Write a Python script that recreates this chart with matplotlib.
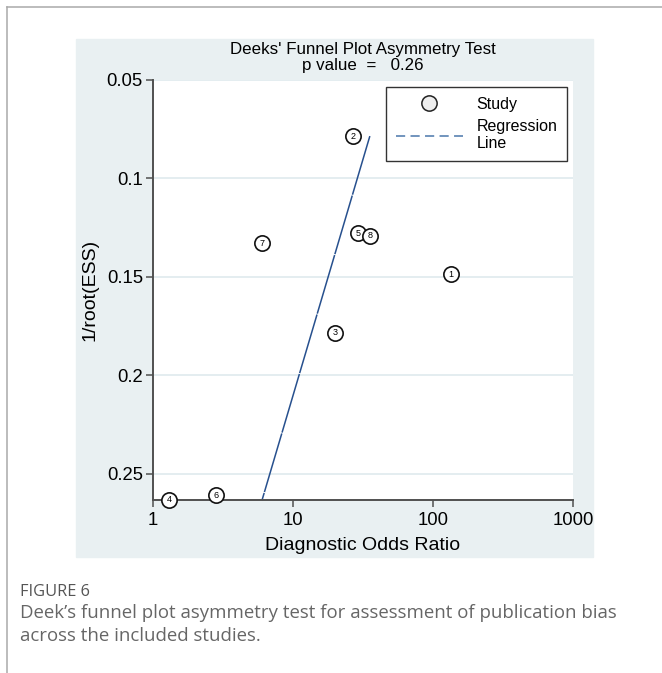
import numpy as np
import matplotlib
matplotlib.use("Agg")
from matplotlib import pyplot as plt
from matplotlib.lines import Line2D
from matplotlib.patches import Rectangle

# study estimates: diagnostic odds ratio and 1/sqrt(effective sample size)
study_ids = [1, 2, 3, 4, 5, 6, 7, 8]
study_dor = [135.0, 27.0, 20.0, 1.31, 29.1, 2.82, 6.0, 35.8]
study_inv_root_ess = [0.1487, 0.0785, 0.1784, 0.2634, 0.1279, 0.2609, 0.1330, 0.1291]

# Deeks regression: ln(DOR) = intercept + slope * 1/root(ESS)
reg_intercept = 4.321
reg_slope = -9.58
p_value = 0.26

x_ticks = [1, 10, 100, 1000]
y_ticks = [0.05, 0.1, 0.15, 0.2, 0.25]
y_tick_labels = ["0.05", "0.1", "0.15", "0.2", "0.25"]

W, H = 662, 673
plt.rcParams["font.family"] = ["Liberation Sans", "DejaVu Sans"]

fig = plt.figure(figsize=(W / 100, H / 100), dpi=100)

# page frame and light panel behind the graph
fig.add_artist(Line2D([6.5 / W, 1.0], [1 - 6.5 / H, 1 - 6.5 / H], color="#aaaaaa", lw=1.1))
fig.add_artist(Line2D([6.5 / W, 6.5 / W], [0.0, 1 - 6.5 / H], color="#aaaaaa", lw=1.1))
fig.add_artist(Rectangle((76 / W, 1 - 557 / H), (593 - 76) / W, (557 - 39) / H,
                         transform=fig.transFigure, color="#e9f0f2", zorder=-5))

ax = fig.add_axes([152.7 / W, 1 - 500 / H, (573 - 152.7) / W, (500 - 80) / H])
ax.set_facecolor("white")

ax.set_xscale("log")
ax.set_xlim(1, 1000)
ax.set_ylim(max(study_inv_root_ess), 0.05)
ax.set_xticks(x_ticks)
ax.set_xticklabels([str(t) for t in x_ticks])
ax.xaxis.set_minor_locator(matplotlib.ticker.NullLocator())
ax.set_yticks(y_ticks)
ax.set_yticklabels(y_tick_labels)

for side in ["top", "right"]:
    ax.spines[side].set_visible(False)
for side in ["left", "bottom"]:
    ax.spines[side].set_color("#505050")
    ax.spines[side].set_linewidth(1.4)
ax.tick_params(axis="both", length=5, width=1.1, color="#505050", labelsize=13.3)
ax.tick_params(axis="x", pad=3.5)
ax.tick_params(axis="y", pad=2)
ax.grid(axis="y", color="#e4edf0", lw=1.4)
ax.set_axisbelow(True)

# regression line over the range of the studies
y_line = np.array([min(study_inv_root_ess), max(study_inv_root_ess)])
x_line = np.exp(reg_intercept + reg_slope * y_line)
ax.plot(x_line, y_line, color="#27508e", lw=1.1, dashes=(40, 0.6), zorder=2, clip_on=False)

# studies as numbered circles
ax.plot(study_dor, study_inv_root_ess, "o", ms=11, mfc="white", mec="#111111", mew=1.2,
        zorder=3, clip_on=False)
for sid, x, y in zip(study_ids, study_dor, study_inv_root_ess):
    ax.text(x, y, str(sid), fontsize=6.5, ha="center", va="center", zorder=4)

ax.set_title("Deeks' Funnel Plot Asymmetry Test\np value  =   %.2f" % p_value,
             fontsize=12.2, linespacing=1.1, pad=7)
ax.set_xlabel("Diagnostic Odds Ratio", fontsize=14, labelpad=6)
ax.set_ylabel("1/root(ESS)", fontsize=14, labelpad=6)

handles = [
    Line2D([], [], ls="none", marker="o", ms=11, mfc="#eeeeee", mec="#222222", mew=1.1),
    Line2D([], [], color="#4a77ab", lw=1.1, dashes=(6, 3.5)),
]
leg = ax.legend(handles, ["Study", "Regression\nLine"], loc="upper right",
                bbox_to_anchor=(0.9857, 0.983), borderaxespad=0, fontsize=11.5,
                frameon=True, fancybox=False, edgecolor="#333333", framealpha=1,
                handlelength=4.2, handletextpad=0.85, borderpad=0.6, labelspacing=0.45)
leg.get_frame().set_linewidth(1.0)

# caption
cap_font = ["Open Sans", "DejaVu Sans"]
fig.text(20 / W, 1 - 592 / H, "FIGURE 6", fontsize=11.8, color="#555555",
         family=cap_font, va="center")
fig.text(20 / W, 1 - 613 / H, "Deek\u2019s funnel plot asymmetry test for assessment of publication bias",
         fontsize=13.4, color="#666666", family=cap_font, va="center")
fig.text(20 / W, 1 - 636 / H, "across the included studies.",
         fontsize=13.4, color="#666666", family=cap_font, va="center")

fig.savefig("out.png", dpi=100)
